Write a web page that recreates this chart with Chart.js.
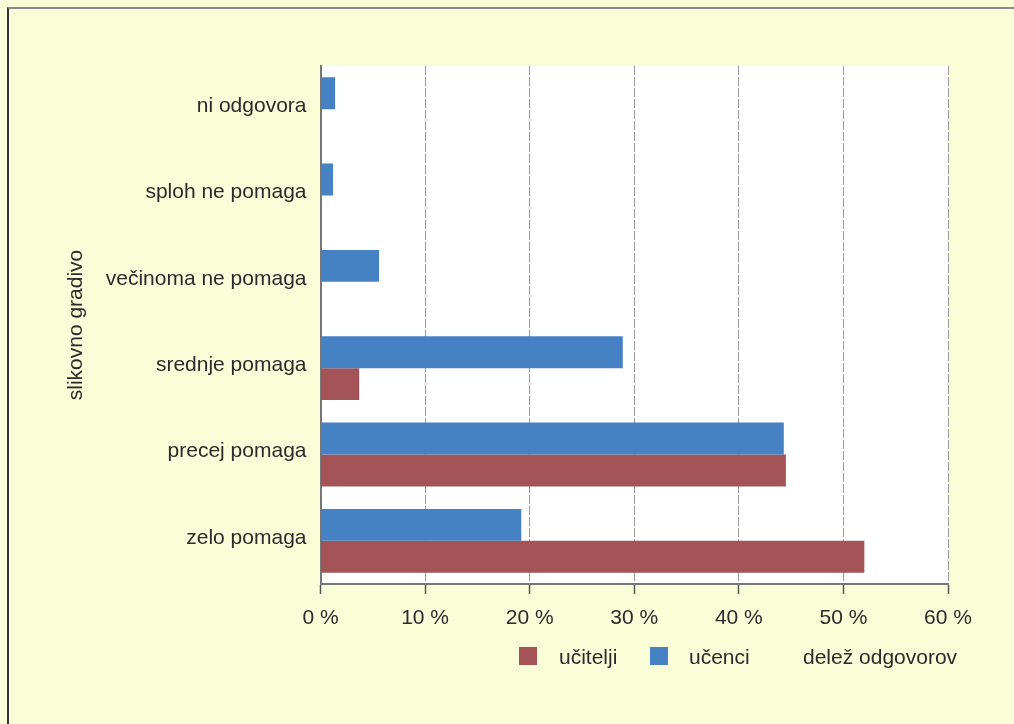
<!DOCTYPE html>
<html>
<head>
<meta charset="utf-8">
<script src="https://cdn.jsdelivr.net/npm/chart.js@4"></script>
<style>
html, body { margin: 0; padding: 0; background: #f9fdd8; }
#wrap { position: relative; width: 1014px; height: 724px; overflow: hidden;
        font-family: "Liberation Sans", Arial, sans-serif; color: #2b2b2b; }
#frame { position: absolute; left: 7px; top: 7px; width: 1100px; height: 800px;
         border-top: 2px solid #8a8a8a; border-left: 2px solid #333; }
#chart { position: absolute; left: 0; top: 0; }
.lg { position: absolute; font-size: 21px; line-height: 21px; white-space: nowrap; }
.sw { position: absolute; width: 18px; height: 18px; }
</style>
</head>
<body>
<div id="wrap">
  <div id="frame"></div>
  <canvas id="chart" width="1014" height="724"></canvas>
  <div class="sw" style="left:519px;top:647px;background:#a45356"></div>
  <div class="lg" style="left:559px;top:646px">učitelji</div>
  <div class="sw" style="left:650px;top:647px;background:#4581c3"></div>
  <div class="lg" style="left:689px;top:646px">učenci</div>
  <div class="lg" style="left:803px;top:646px">delež odgovorov</div>
</div>
<script>
// values (%)
const categories = ['ni odgovora', 'sploh ne pomaga', 'večinoma ne pomaga', 'srednje pomaga', 'precej pomaga', 'zelo pomaga'];
const ucenci = [1.4, 1.2, 5.6, 28.9, 44.3, 19.2];
const ucitelji = [0, 0, 0, 3.7, 44.5, 52.0];
const xMin = 0, xMax = 60, xStep = 10;

const textColor = '#2b2b2b';
const font = { family: '"Liberation Sans", Arial, sans-serif', size: 21 };

// white plot area on the yellow page
const plotBg = {
    id: 'plotBg',
    beforeDraw(chart) {
        const { ctx, chartArea: a } = chart;
        ctx.save();
        ctx.fillStyle = '#ffffff';
        ctx.fillRect(a.left, a.top, a.right - a.left, a.bottom - a.top);
        ctx.restore();
    }
};

new Chart(document.getElementById('chart'), {
    type: 'bar',
    data: {
        labels: categories,
        datasets: [
            { label: 'učenci', data: ucenci, backgroundColor: '#4581c3' },
            { label: 'učitelji', data: ucitelji, backgroundColor: '#a45356' }
        ]
    },
    options: {
        indexAxis: 'y',
        responsive: false,
        animation: false,
        categoryPercentage: 0.74,
        barPercentage: 1.0,
        layout: { padding: { left: 56, top: 66, right: 66, bottom: 80 } },
        plugins: {
            legend: { display: false },
            tooltip: { enabled: false }
        },
        scales: {
            x: {
                min: xMin,
                max: xMax,
                afterFit: s => { s.height = 60; },
                ticks: {
                    stepSize: xStep,
                    color: textColor,
                    font: font,
                    padding: 12,
                    maxRotation: 0,
                    callback: v => v + ' %'
                },
                grid: {
                    color: '#9a9a9a',
                    lineWidth: 1,
                    tickColor: '#555',
                    tickLength: 10,
                    tickWidth: 1.5
                },
                border: { color: '#777', width: 2, dash: [9, 2] }
            },
            y: {
                afterFit: s => { s.width = 264.5; },
                ticks: { color: textColor, font: font, padding: 14, labelOffset: -3 },
                grid: { display: false, drawTicks: false },
                border: { color: '#777', width: 2 },
                title: {
                    display: true,
                    text: 'slikovno gradivo',
                    color: textColor,
                    font: font,
                    padding: { top: 8, bottom: 0 }
                }
            }
        }
    },
    plugins: [plotBg]
});
</script>
</body>
</html>
